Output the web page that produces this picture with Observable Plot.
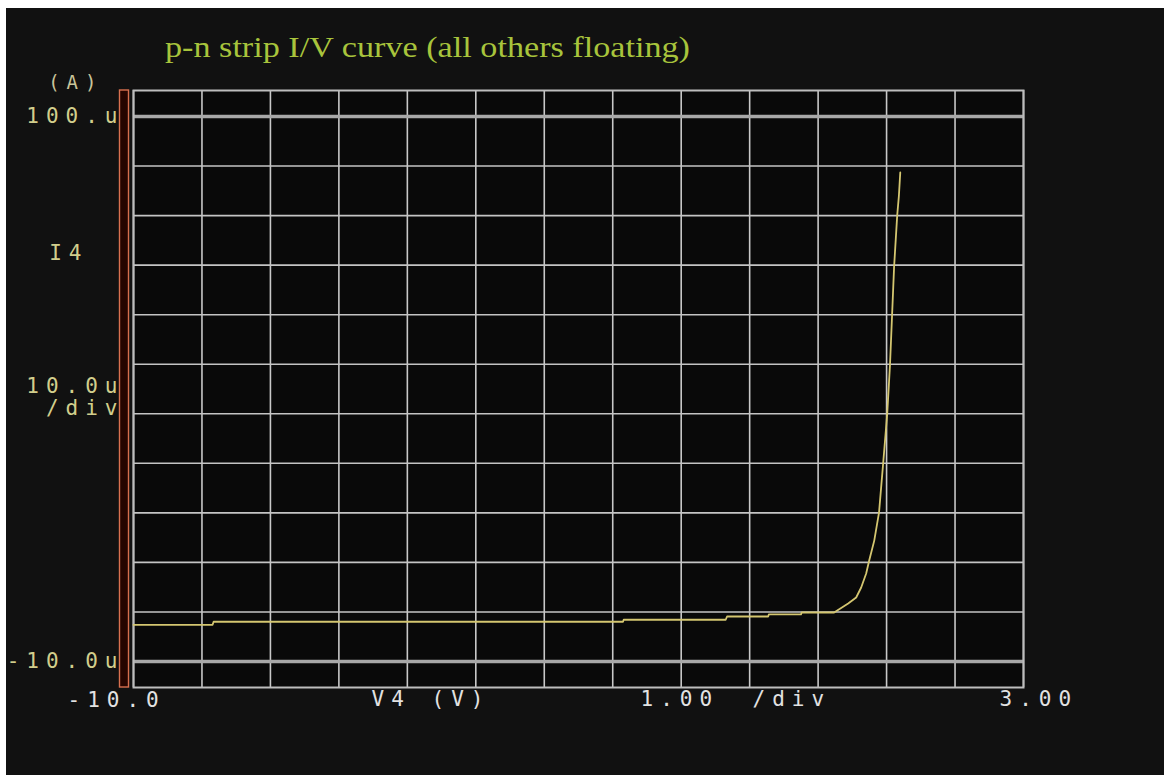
<!DOCTYPE html>
<html><head><meta charset="utf-8">
<script src="https://cdn.jsdelivr.net/npm/d3@7"></script>
<script src="https://cdn.jsdelivr.net/npm/@observablehq/plot@0.6"></script>
<style>
html,body{margin:0;padding:0;background:#fff;width:1164px;height:775px;overflow:hidden;}
#wrap{position:absolute;left:6px;top:8px;width:1158px;height:767px;background:#111;}
#title{position:absolute;left:159px;top:23px;font-family:"Liberation Serif","Times New Roman",serif;font-size:29px;color:#a8c43c;white-space:nowrap;transform-origin:0 0;}
#chart{position:absolute;left:0;top:0;}
</style></head><body>
<div id="wrap"><div id="chart"></div><div id="title"></div></div>
<script>
// Data: V4 (V) vs I4 (µA)
const voltage = [-10, -8.845, -8.83, -2.85, -2.84, -1.35, -1.33, -0.73, -0.72, -0.25, -0.24, 0.234, 0.439, 0.556, 0.629, 0.702, 0.746, 0.82, 0.89, 0.95, 1.01, 1.05, 1.08, 1.11, 1.155, 1.18, 1.20];
const current = [-2.59, -2.59, -1.98, -1.98, -1.58, -1.58, -0.92, -0.92, -0.51, -0.51, -0.11, -0.11, 1.71, 2.92, 4.93, 7.76, 10.38, 14.4, 20.1, 30.0, 40.1, 49.9, 59.8, 69.7, 80.0, 84.0, 88.7];
const xGrid = d3.range(-10, 4, 1);
const yGrid = d3.range(-10, 101, 10);
const yMajor = [-10, 100];
const titleText = "p-n strip I/V curve (all others floating)";
const yUnit = "(A)";
const yName = "I4";
const yTop = "100.u";
const yBottom = "-10.0u";
const yDiv = "10.0u";
const divText = "/div";
const xLeft = "-10.0";
const xRight = "3.00";
const xName = "V4";
const xUnitLbl = "(V)";
const xDiv = "1.00";

const data = voltage.map((v, i) => ({v, i: current[i]}));
const mono = "DejaVu Sans Mono, monospace";
const yCol = "#d2ce8c";
const xCol = "#e2e2e2";
const fs = 21;

const titleEl = document.getElementById("title");
titleEl.textContent = titleText;

const plot = Plot.plot({
  width: 1158, height: 767,
  marginLeft: 127, marginTop: 82, marginRight: 141, marginBottom: 88,
  x: {domain: [-10, 3], axis: null},
  y: {domain: [-15.25, 105.25], axis: null},
  style: {background: "transparent", letterSpacing: "7px"},
  marks: [
    Plot.frame({fill: "#090909"}),
    Plot.ruleX(xGrid, {stroke: "#c8c8c8", strokeWidth: 1.6}),
    Plot.ruleY(yGrid, {stroke: "#c4c4c4", strokeWidth: 1.6}),
    Plot.ruleY(yMajor, {stroke: "#a8a8a8", strokeWidth: 3.5}),
    Plot.frame({stroke: "#bdbdbd", strokeWidth: 2}),
    Plot.line(data, {x: "v", y: "i", stroke: "#d4c670", strokeWidth: 1.8}),
    // y labels
    Plot.text([yTop], {x: () => -10, y: () => 100, text: d => d, textAnchor: "end", dx: -9, fill: yCol, fontFamily: mono, fontSize: fs}),
    Plot.text([yBottom], {x: () => -10, y: () => -10, text: d => d, textAnchor: "end", dx: -9, fill: yCol, fontFamily: mono, fontSize: fs}),
    Plot.text([yDiv], {x: () => -10, y: () => 45, text: d => d, textAnchor: "end", dx: -9, dy: -3, fill: yCol, fontFamily: mono, fontSize: fs}),
    Plot.text([divText], {x: () => -10, y: () => 45, text: d => d, textAnchor: "end", dx: -9, dy: 19, fill: yCol, fontFamily: mono, fontSize: fs}),
    Plot.text([yName], {x: () => -10, y: () => 45, text: d => d, textAnchor: "end", dx: -45, dy: -136, fill: yCol, fontFamily: mono, fontSize: fs}),
    Plot.text([yUnit], {frameAnchor: "top-left", text: d => d, textAnchor: "end", dx: -30, dy: -15, fill: "#c8c49a", fontFamily: mono, fontSize: 19}),
    // x labels
    Plot.text([xLeft], {frameAnchor: "bottom-left", text: d => d, textAnchor: "start", dx: -66, dy: 19, fill: xCol, fontFamily: mono, fontSize: fs}),
    Plot.text([xName], {frameAnchor: "bottom-left", text: d => d, textAnchor: "start", dx: 238, dy: 18, fill: xCol, fontFamily: mono, fontSize: fs}),
    Plot.text([xUnitLbl], {frameAnchor: "bottom-left", text: d => d, textAnchor: "start", dx: 298, dy: 18, fill: xCol, fontFamily: mono, fontSize: fs}),
    Plot.text([xDiv], {frameAnchor: "bottom-left", text: d => d, textAnchor: "start", dx: 507, dy: 18, fill: xCol, fontFamily: mono, fontSize: fs}),
    Plot.text([divText], {frameAnchor: "bottom-left", text: d => d, textAnchor: "start", dx: 619, dy: 18, fill: xCol, fontFamily: mono, fontSize: fs}),
    Plot.text([xRight], {frameAnchor: "bottom-right", text: d => d, textAnchor: "start", dx: -24, dy: 18, fill: xCol, fontFamily: mono, fontSize: fs})
  ]
});

// orange double bar left of the plot frame
const sx = plot.scale("x"), sy = plot.scale("y");
const x0 = sx.apply(-10);
const yT = sy.apply(105.25), yB = sy.apply(-15.25);
d3.select(plot).insert("rect", ":first-child")
  .attr("x", x0 - 13.5).attr("y", yT).attr("width", 9).attr("height", yB - yT)
  .attr("fill", "#260500").attr("stroke", "#d8704f").attr("stroke-width", 1.4);

document.getElementById("chart").appendChild(plot);

// stretch the title to the reference's width
const w = titleEl.getBoundingClientRect().width;
titleEl.style.transform = `scaleX(${525 / w})`;
</script>
</body></html>
